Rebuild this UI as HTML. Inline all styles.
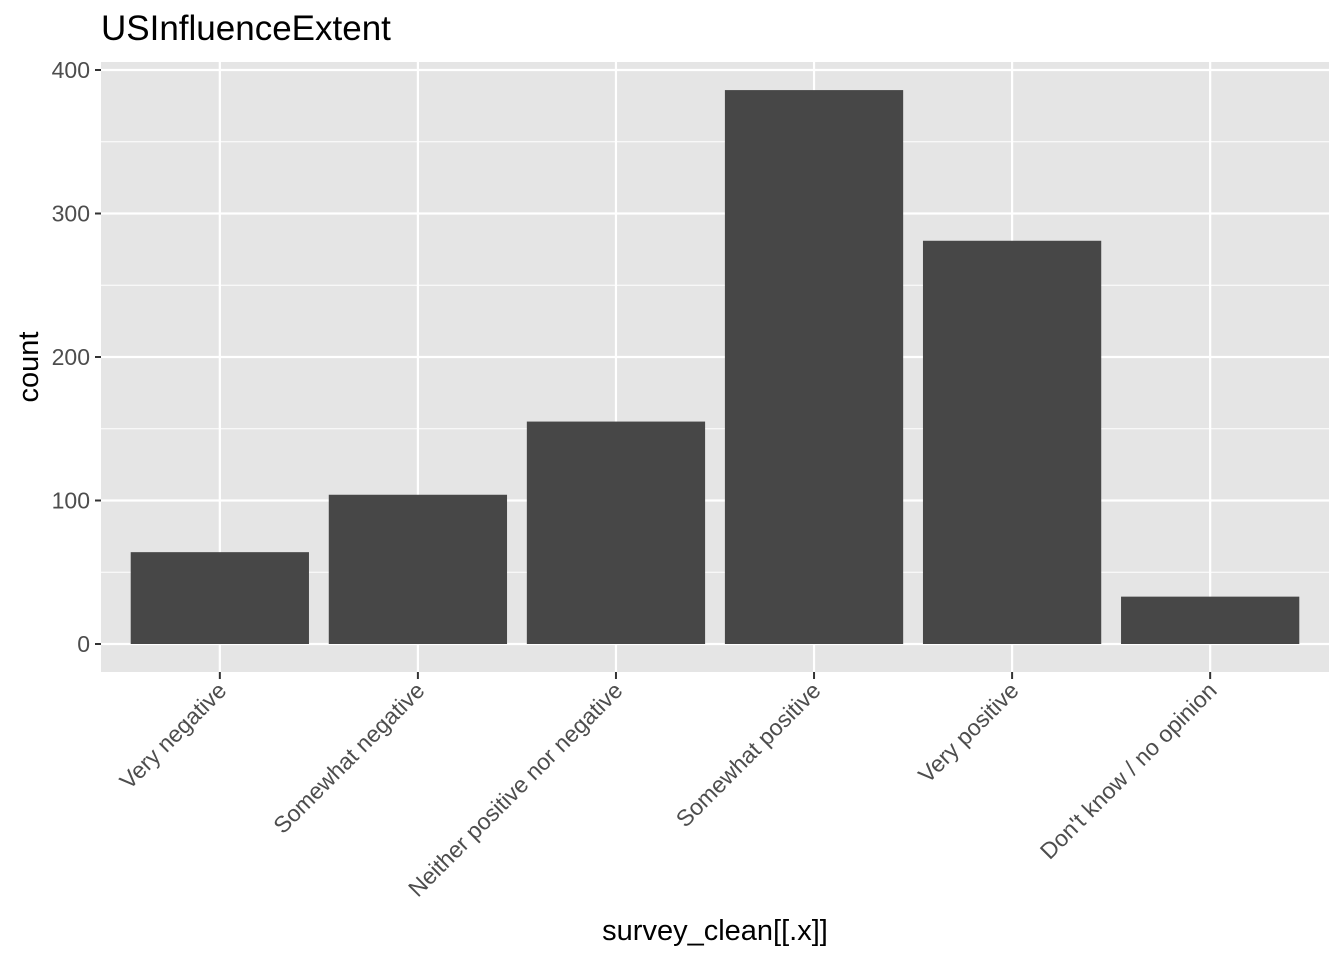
<!DOCTYPE html>
<html><head><meta charset="utf-8"><style>body{margin:0;background:#fff}svg{display:block;font-family:"Liberation Sans",Arial,sans-serif}</style></head>
<body>
<svg id="chart" width="1344" height="960">
<text x="101" y="40" font-size="35" fill="#000">USInfluenceExtent</text>
<rect x="101" y="62" width="1228" height="610" fill="#e5e5e5"/>
<g id="grid"></g><g id="bars"></g><g id="axes"></g>
<text x="715" y="940" font-size="29" text-anchor="middle" fill="#000">survey_clean[[.x]]</text>
<text transform="translate(38,367) rotate(-90)" font-size="29" text-anchor="middle" fill="#000">count</text>
</svg>
<script>
const categories=["Very negative","Somewhat negative","Neither positive nor negative","Somewhat positive","Very positive","Don't know / no opinion"];
const counts=[64,104,155,386,281,33];
const yTicks=[0,100,200,300,400];
const NS="http://www.w3.org/2000/svg";
const pLeft=101,pRight=1329,pTop=62,pBottom=672;
const y0=644,y400=70;
function yScale(v){return y0-(v/400)*(y0-y400);}
const step=(pRight-pLeft)/(categories.length+0.2);
function xScale(i){return pLeft+step*(i+0.6);}
const bw=step*0.9;
function mk(tag,attrs,parent){const e=document.createElementNS(NS,tag);for(const k in attrs)e.setAttribute(k,attrs[k]);parent.appendChild(e);return e;}
const grid=document.getElementById('grid'),bars=document.getElementById('bars'),axes=document.getElementById('axes');
for(let i=0;i<yTicks.length-1;i++){const v=(yTicks[i]+yTicks[i+1])/2;
 const l=mk('line',{x1:pLeft,x2:pRight,y1:yScale(v),y2:yScale(v),stroke:'#fff','stroke-width':1},grid);
 
 }
yTicks.forEach(v=>{const y=yScale(v);
 const l=mk('line',{x1:pLeft,x2:pRight,y1:y,y2:y,stroke:'#fff','stroke-width':2.2},grid);
 
 
 const t=mk('line',{x1:pLeft-6,x2:pLeft,y1:y,y2:y,stroke:'#333','stroke-width':2},axes);
 
 
 const tx=mk('text',{x:pLeft-11,y:y+8,'font-size':23,'text-anchor':'end',fill:'#4d4d4d'},axes);tx.textContent=v;
 
 });
categories.forEach((c,i)=>{const x=xScale(i);
 const l=mk('line',{x1:x,x2:x,y1:pTop,y2:pBottom,stroke:'#fff','stroke-width':2.2},grid);
 
 
 const r=mk('rect',{x:x-bw/2,y:yScale(counts[i]),width:bw,height:yScale(0)-yScale(counts[i]),fill:'#474747'},bars);
 
 
 const t=mk('line',{x1:x,x2:x,y1:pBottom,y2:pBottom+7,stroke:'#333','stroke-width':2},axes);
 
 
 const tx=mk('text',{transform:`translate(${x+8},${pBottom+20}) rotate(-45)`,'font-size':23,'text-anchor':'end',fill:'#4d4d4d'},axes);tx.textContent=c;
 
 });
</script>
</body></html>
